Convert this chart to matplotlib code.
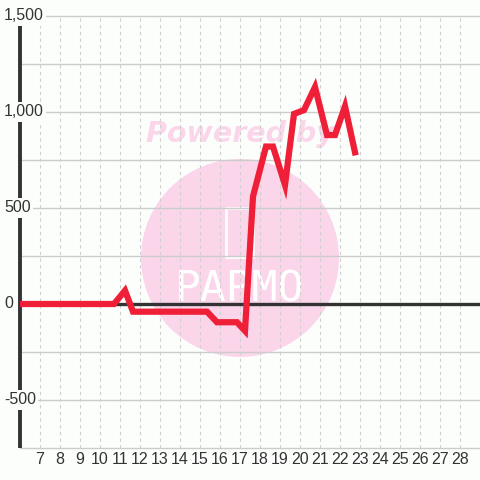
import matplotlib
matplotlib.use("Agg")
import matplotlib.pyplot as plt
import matplotlib.transforms as mtransforms
from matplotlib.patches import Circle, Rectangle

# data (day of month, value)
days = [6.0, 10.7, 11.25, 11.65, 15.35, 15.85, 16.85, 17.25, 17.65, 18.3,
        18.65, 19.25, 19.7, 20.2, 20.75, 21.35, 21.75, 22.25, 22.75]
values = [0, 0, 70, -40, -40, -95, -95, -140, 560, 820,
          820, 620, 990, 1010, 1130, 880, 880, 1030, 790]
x_ticks = list(range(7, 29))
y_ticks = [1500, 1000, 500, 0, -500]
y_labels = ['1,500', '1,000', '500', '0', '-500']

bg = '#fcfefc'
pink = '#fbd6ea'
plt.rcParams['font.family'] = ['Liberation Sans', 'DejaVu Sans']

fig = plt.figure(figsize=(4.8, 4.8), dpi=100)
fig.set_facecolor(bg)
ax = fig.add_axes([20 / 480, 32 / 480, 460 / 480, 432 / 480])
ax.set_facecolor('none')

# watermark behind the axes
fig.patches.append(Circle((240 / 480, 1 - 258 / 480), 99 / 480, transform=fig.transFigure,
                          facecolor=pink, edgecolor='none', zorder=-2))
fig.patches.append(Rectangle((226 / 480, 1 - 257 / 480), 27 / 480, 49 / 480,
                             transform=fig.transFigure, facecolor='none',
                             edgecolor='white', lw=2, zorder=-1))
fig.text(240 / 480, 1 - 134 / 480, 'Powered by', color=pink, fontsize=20.5,
         fontweight='bold', style='italic', family='DejaVu Sans',
         ha='center', va='center', zorder=-1)
fig.text(240 / 480, 1 - 289 / 480, 'PAPMO', color='white', fontsize=31,
         family='DejaVu Sans Mono', ha='center', va='center', zorder=-1)

ax.set_xlim(6, 29)
ax.set_ylim(-750, 1500)

# grid
for v in range(-750, 1501, 250):
    ax.axhline(v, color='#cccccc', lw=1, zorder=1, clip_on=False)
for d in x_ticks:
    ax.axvline(d, color='#cfcfcf', lw=0.8, ls=(0, (3, 3)), zorder=1)

ax.axhline(0, color='#333333', lw=2.4, zorder=2)
ax.plot([6, 6], [-750, 1500], color='#333333', lw=2.8, zorder=2,
        clip_on=False, solid_capstyle='butt')

ax.plot(days, values, color='#ee1f36', lw=4.5, zorder=3, solid_joinstyle='miter')

for s in ax.spines.values():
    s.set_visible(False)

ax.set_xticks(x_ticks)
ax.tick_params(axis='x', length=0, pad=3, labelsize=11.5, labelcolor='#333333')
ax.set_yticks([])

trans = mtransforms.blended_transform_factory(fig.transFigure, ax.transData)
for v, lab in zip(y_ticks, y_labels):
    ax.text(4 / 480, v, lab, transform=trans, ha='left', va='center', fontsize=11.5,
            color='#333333', zorder=5, clip_on=False,
            bbox=dict(facecolor=bg, edgecolor='none', pad=1.5))

fig.savefig('out.png', dpi=100, facecolor=bg)
